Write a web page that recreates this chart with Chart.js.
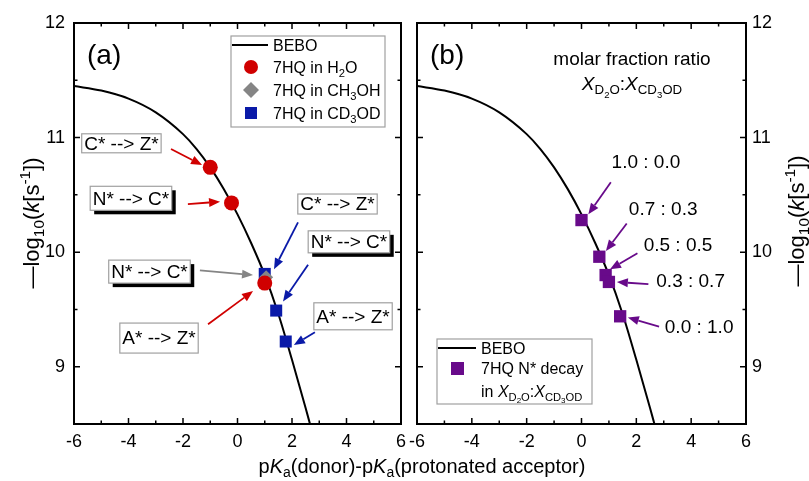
<!DOCTYPE html>
<html>
<head>
<meta charset="utf-8">
<script src="https://cdn.jsdelivr.net/npm/chart.js@4.4.1/dist/chart.umd.min.js"></script>
<style>
  body { margin: 0; background: #fff; }
  #wrap { position: relative; width: 809px; height: 481px; }
  #wrap canvas { position: absolute; left: 0; top: 0; }
</style>
</head>
<body>
<div id="wrap">
  <canvas id="panelA" width="809" height="481"></canvas>
  <canvas id="panelB" width="809" height="481"></canvas>
</div>
<script>
// BEBO curve
const beboX = [-6, -5, -4, -3, -2, -1.5, -1, -0.5, 0, 0.5, 1, 1.5, 2, 2.5, 2.66];
const beboY = [11.45, 11.41, 11.34, 11.22, 11.03, 10.90, 10.74, 10.55, 10.33, 10.08, 9.80, 9.46, 9.06, 8.64, 8.50];

// panel (a) measurements
const h2oX = [-1.0, -0.22, 1.0];
const h2oY = [10.74, 10.43, 9.73];
const meohX = [1.05];
const meohY = [9.78];
const cd3odX = [1.0, 1.42, 1.77];
const cd3odY = [9.81, 9.49, 9.22];

// panel (b) N* decay in D2O:CD3OD mixtures
const mixLabels = ['1.0 : 0.0', '0.7 : 0.3', '0.5 : 0.5', '0.3 : 0.7', '0.0 : 1.0'];
const mixX = [0.0, 0.65, 0.88, 1.0, 1.41];
const mixY = [10.28, 9.96, 9.80, 9.74, 9.44];

const xTickLabels = [-6, -4, -2, 0, 2, 4, 6];
const yTickLabels = [9, 10, 11, 12];

const RED = '#d00000', BLUE = '#0a1aa8', GRAY = '#858585', PURPLE = '#680a8a';
const FONT = 'Arial, "Liberation Sans", sans-serif';

// arrow callouts (data coordinates: label centre, arrow tail -> head)
const annA = [
  { text: 'C* --> Z*', x: -4.26, y: 10.95, h: 19, shadow: false, color: RED,  arrow: [-2.44, 10.90, -1.30, 10.76] },
  { text: 'N* --> C*', x: -3.91, y: 10.47, h: 24, shadow: true,  color: RED,  arrow: [-1.82, 10.42, -0.64, 10.44] },
  { text: 'C* --> Z*', x: 3.67,  y: 10.42, h: 20, shadow: false, color: BLUE, arrow: [2.22, 10.26, 1.34, 9.85] },
  { text: 'N* --> C*', x: 4.09,  y: 10.09, h: 22, shadow: true,  color: BLUE, arrow: [2.59, 9.89, 1.67, 9.57] },
  { text: 'N* --> C*', x: -3.23, y: 9.83,  h: 23, shadow: true,  color: GRAY, arrow: [-1.38, 9.84, 0.57, 9.80] },
  { text: 'A* --> Z*', x: -2.88, y: 9.25,  h: 30, shadow: false, color: RED,  arrow: [-1.08, 9.37, 0.57, 9.66] },
  { text: 'A* --> Z*', x: 4.24,  y: 9.44,  h: 27, shadow: false, color: BLUE, arrow: [2.84, 9.30, 2.07, 9.19] }
];
const annB = [
  { x: 2.35, y: 10.78, arrow: [1.07, 10.61, 0.25, 10.33] },
  { x: 2.98, y: 10.37, arrow: [1.65, 10.25, 0.89, 10.01] },
  { x: 3.52, y: 10.06, arrow: [2.04, 9.99, 1.04, 9.85] },
  { x: 3.98, y: 9.74,  arrow: [2.44, 9.72, 1.29, 9.74] },
  { x: 4.29, y: 9.34,  arrow: [2.83, 9.35, 1.69, 9.43] }
];

// rich text pieces: [text, flags]  i = italic, b = subscript, bb = sub-sub, p = superscript
const Y_TITLE = [['\u2014log'], ['10', 'b'], ['('], ['k', 'i'], ['[s'], ['-1', 'p'], ['])']];
const X_TITLE = [['p'], ['K', 'i'], ['a', 'b'], ['(donor)-p'], ['K', 'i'], ['a', 'b'], ['(protonated acceptor)']];
const X_RATIO = [['X', 'i'], ['D', 'b'], ['2', 'bb'], ['O', 'b'], [':'], ['X', 'i'], ['CD', 'b'], ['3', 'bb'], ['OD', 'b']];

const pts = (xs, ys) => xs.map((x, i) => ({ x: x, y: ys[i] }));

function drawRich(ctx, segs, x, y, size, align) {
  const parts = segs.map(([t, f = '']) => {
    let fs = size, dy = 0;
    if (f.includes('bb')) { fs = size * 0.5; dy = size * 0.4; }
    else if (f.includes('b')) { fs = size * 0.7; dy = size * 0.22; }
    else if (f.includes('p')) { fs = size * 0.7; dy = -size * 0.4; }
    const font = (f.includes('i') ? 'italic ' : '') + fs.toFixed(1) + 'px ' + FONT;
    ctx.font = font;
    return { t: t, font: font, dy: dy, w: ctx.measureText(t).width };
  });
  const total = parts.reduce((s, p) => s + p.w, 0);
  let cx = align === 'center' ? x - total / 2 : x;
  ctx.textAlign = 'left';
  ctx.textBaseline = 'alphabetic';
  parts.forEach(p => { ctx.font = p.font; ctx.fillText(p.t, cx, y + p.dy); cx += p.w; });
}

function arrow(ctx, x1, y1, x2, y2, color) {
  const a = Math.atan2(y2 - y1, x2 - x1), L = 11, W = 4.5;
  const bx = x2 - L * Math.cos(a), by = y2 - L * Math.sin(a);
  ctx.strokeStyle = color; ctx.fillStyle = color; ctx.lineWidth = 1.8;
  ctx.beginPath(); ctx.moveTo(x1, y1); ctx.lineTo(bx, by); ctx.stroke();
  ctx.beginPath();
  ctx.moveTo(x2, y2);
  ctx.lineTo(bx - W * Math.sin(a), by + W * Math.cos(a));
  ctx.lineTo(bx + W * Math.sin(a), by - W * Math.cos(a));
  ctx.closePath(); ctx.fill();
}

function arrowData(chart, arr, color) {
  const { x, y } = chart.scales;
  arrow(chart.ctx, x.getPixelForValue(arr[0]), y.getPixelForValue(arr[1]),
    x.getPixelForValue(arr[2]), y.getPixelForValue(arr[3]), color);
}

// box + inward ticks on all four sides
function drawFrame(chart) {
  const { ctx, chartArea: a, scales: { x, y } } = chart;
  ctx.save();
  ctx.strokeStyle = '#000';
  ctx.lineWidth = 2;
  ctx.strokeRect(a.left, a.top, a.right - a.left, a.bottom - a.top);
  ctx.lineWidth = 1.5;
  ctx.beginPath();
  x.ticks.forEach(t => {
    const p = x.getPixelForValue(t.value), len = xTickLabels.includes(t.value) ? 6 : 3.5;
    ctx.moveTo(p, a.bottom); ctx.lineTo(p, a.bottom - len);
    ctx.moveTo(p, a.top); ctx.lineTo(p, a.top + len);
  });
  y.ticks.forEach(t => {
    const p = y.getPixelForValue(t.value), len = yTickLabels.includes(t.value) ? 6 : 3.5;
    ctx.moveTo(a.left, p); ctx.lineTo(a.left + len, p);
    ctx.moveTo(a.right, p); ctx.lineTo(a.right - len, p);
  });
  ctx.stroke();
  ctx.restore();
}

function yTitle(ctx, px, py) {
  ctx.save();
  ctx.translate(px, py);
  ctx.rotate(-Math.PI / 2);
  ctx.fillStyle = '#000';
  drawRich(ctx, Y_TITLE, 0, 0, 22, 'center');
  ctx.restore();
}

function drawPanelA(chart) {
  const { ctx, scales: { x, y } } = chart;
  drawFrame(chart);
  ctx.save();
  ctx.fillStyle = '#000';
  ctx.font = '28px ' + FONT;
  ctx.textAlign = 'left';
  ctx.textBaseline = 'alphabetic';
  ctx.fillText('(a)', 87, 64);

  annA.forEach(a => {
    arrowData(chart, a.arrow, a.color);
    ctx.font = '19px ' + FONT;
    const w = ctx.measureText(a.text).width + 5;
    const cx = x.getPixelForValue(a.x), cy = y.getPixelForValue(a.y);
    const bx = cx - w / 2, by = cy - a.h / 2;
    if (a.shadow) { ctx.fillStyle = '#000'; ctx.fillRect(bx + 4, by + 4, w, a.h); }
    ctx.fillStyle = '#fff'; ctx.fillRect(bx, by, w, a.h);
    ctx.strokeStyle = '#a0a0a0'; ctx.lineWidth = 1.2; ctx.strokeRect(bx, by, w, a.h);
    ctx.fillStyle = '#000'; ctx.textAlign = 'center'; ctx.textBaseline = 'middle';
    ctx.fillText(a.text, cx, cy + 1);
  });

  // legend
  ctx.fillStyle = '#fff'; ctx.fillRect(231, 36, 154, 91);
  ctx.strokeStyle = '#a0a0a0'; ctx.lineWidth = 1.2; ctx.strokeRect(231, 36, 154, 91);
  ctx.strokeStyle = '#000'; ctx.lineWidth = 2;
  ctx.beginPath(); ctx.moveTo(232, 45); ctx.lineTo(268, 45); ctx.stroke();
  ctx.fillStyle = RED; ctx.beginPath(); ctx.arc(251, 67, 7, 0, Math.PI * 2); ctx.fill();
  ctx.fillStyle = GRAY; ctx.beginPath();
  ctx.moveTo(251, 82); ctx.lineTo(259, 90); ctx.lineTo(251, 98); ctx.lineTo(243, 90); ctx.closePath(); ctx.fill();
  ctx.fillStyle = BLUE; ctx.fillRect(245, 107, 12, 12);
  ctx.fillStyle = '#000';
  drawRich(ctx, [['BEBO']], 273, 51, 16);
  drawRich(ctx, [['7HQ in H'], ['2', 'b'], ['O']], 273, 73, 16);
  drawRich(ctx, [['7HQ in CH'], ['3', 'b'], ['OH']], 273, 96, 16);
  drawRich(ctx, [['7HQ in CD'], ['3', 'b'], ['OD']], 273, 119, 16);

  drawRich(ctx, X_TITLE, 422, 473, 20, 'center');
  ctx.restore();
  yTitle(ctx, 39, 223);
}

function drawPanelB(chart) {
  const { ctx, scales: { x, y } } = chart;
  drawFrame(chart);
  ctx.save();
  ctx.fillStyle = '#000';
  ctx.font = '28px ' + FONT;
  ctx.textAlign = 'left';
  ctx.textBaseline = 'alphabetic';
  ctx.fillText('(b)', 430, 64);

  ctx.font = '19px ' + FONT;
  ctx.textAlign = 'center';
  ctx.fillText('molar fraction ratio', 632, 65);
  drawRich(ctx, X_RATIO, 632, 90, 19, 'center');

  annB.forEach((a, i) => {
    arrowData(chart, a.arrow, PURPLE);
    ctx.fillStyle = '#000';
    ctx.font = '19px ' + FONT;
    ctx.textAlign = 'center';
    ctx.textBaseline = 'middle';
    ctx.fillText(mixLabels[i], x.getPixelForValue(a.x), y.getPixelForValue(a.y));
  });

  // legend
  ctx.fillStyle = '#fff'; ctx.fillRect(437, 339, 155, 65);
  ctx.strokeStyle = '#a0a0a0'; ctx.lineWidth = 1.2; ctx.strokeRect(437, 339, 155, 65);
  ctx.strokeStyle = '#000'; ctx.lineWidth = 2;
  ctx.beginPath(); ctx.moveTo(438, 348); ctx.lineTo(476, 348); ctx.stroke();
  ctx.fillStyle = PURPLE; ctx.fillRect(451, 362, 13, 13);
  ctx.fillStyle = '#000';
  drawRich(ctx, [['BEBO']], 481, 354, 16);
  drawRich(ctx, [['7HQ N* decay']], 481, 374, 16);
  drawRich(ctx, [['in ']].concat(X_RATIO), 481, 397, 16);
  ctx.restore();
  yTitle(ctx, 804, 221);
}

function xScale() {
  return {
    type: 'linear', position: 'bottom', min: -6, max: 6,
    grid: { display: false, drawTicks: false }, border: { display: false },
    ticks: {
      stepSize: 1, autoSkip: false, maxRotation: 0, padding: 7, color: '#000',
      font: { family: FONT, size: 18 },
      callback: v => xTickLabels.includes(v) ? String(v) : ''
    },
    afterFit: s => { s.height = 40; }
  };
}

function yScale(position, pad, width) {
  return {
    type: 'linear', position: position, min: 8.5, max: 12,
    grid: { display: false, drawTicks: false }, border: { display: false },
    ticks: {
      stepSize: 0.5, autoSkip: false, padding: pad, color: '#000',
      font: { family: FONT, size: 18 },
      callback: v => yTickLabels.includes(v) ? String(v) : ''
    },
    afterFit: s => { s.width = width; }
  };
}

const beboSet = {
  label: 'BEBO', data: pts(beboX, beboY), showLine: true, borderColor: '#000', borderWidth: 2,
  pointRadius: 0, pointHoverRadius: 0, cubicInterpolationMode: 'monotone', order: 5
};

new Chart(document.getElementById('panelA'), {
  type: 'scatter',
  data: {
    datasets: [
      beboSet,
      { label: '7HQ in CD3OD', data: pts(cd3odX, cd3odY), pointStyle: 'rect', pointRadius: 8.5,
        backgroundColor: BLUE, pointBorderWidth: 0, borderWidth: 0, order: 3 },
      { label: '7HQ in CH3OH', data: pts(meohX, meohY), pointStyle: 'rectRot', pointRadius: 7,
        backgroundColor: GRAY, pointBorderWidth: 0, borderWidth: 0, order: 2 },
      { label: '7HQ in H2O', data: pts(h2oX, h2oY), pointStyle: 'circle', pointRadius: 7.5,
        backgroundColor: RED, pointBorderWidth: 0, borderWidth: 0, order: 1 }
    ]
  },
  options: {
    responsive: false, animation: false, events: [],
    layout: { autoPadding: false, padding: { left: 0, top: 23, right: 408, bottom: 17 } },
    plugins: { legend: { display: false }, tooltip: { enabled: false } },
    scales: { x: xScale(), y: yScale('left', 9, 74) }
  },
  plugins: [{ id: 'decorA', afterDraw: drawPanelA }]
});

new Chart(document.getElementById('panelB'), {
  type: 'scatter',
  data: {
    datasets: [
      Object.assign({}, beboSet, { data: pts(beboX, beboY) }),
      { label: '7HQ N* decay', data: pts(mixX, mixY), pointStyle: 'rect', pointRadius: 8.7,
        backgroundColor: PURPLE, pointBorderWidth: 0, borderWidth: 0, order: 1 }
    ]
  },
  options: {
    responsive: false, animation: false, events: [],
    layout: { autoPadding: false, padding: { left: 417, top: 23, right: 0, bottom: 17 } },
    plugins: { legend: { display: false }, tooltip: { enabled: false } },
    scales: { x: xScale(), y: yScale('right', 6, 63) }
  },
  plugins: [{ id: 'decorB', afterDraw: drawPanelB }]
});
</script>
</body>
</html>
